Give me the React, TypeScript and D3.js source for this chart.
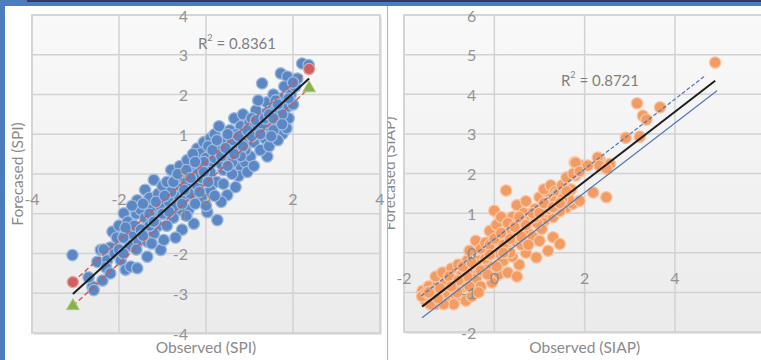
import React from "react";
import * as d3 from "d3";

const spiTicksX = [-4, -2, 0, 2, 4];
const spiTicksY = [-4, -3, -2, -1, 0, 1, 2, 3, 4];
const siapTicksX = [-2, 0, 2, 4, 6];
const siapTicksY = [-2, -1, 0, 1, 2, 3, 4, 5, 6];

const spiPoints: [number, number][] = [
  [-3.07, -2.04], [-2.61, -2.83], [-2.58, -2.92], [-2.38, -2.68], [-2.5, -2.21], [-2.42, -1.91], [-2.7, -2.6],
  [-2.27, -2.17], [-2.2, -1.85], [-2.15, -1.45], [-2.05, -1.6], [-2.1, -2.0], [-2.3, -2.35], [-2.0, -1.3], [-2.35, -1.9],
  [-1.96, -2.17], [-1.85, -2.41], [-1.73, -2.33], [-1.58, -2.37], [-1.89, -0.99], [-1.8, -1.2], [-1.7, -1.5], [-1.75, -1.8],
  [-1.6, -1.0], [-1.58, -0.66], [-1.9, -1.6], [-1.65, -1.3], [-1.55, -1.7], [-1.5, -0.9], [-1.85, -1.35], [-1.7, -0.8],
  [-1.35, -2.08], [-1.2, -0.15], [-1.4, -0.4], [-1.3, -0.6], [-1.25, -0.9], [-1.4, -1.1], [-1.1, -1.3], [-1.2, -1.5],
  [-1.35, -1.7], [-1.04, -1.91], [-0.97, -1.66], [-1.1, -0.5], [-1.45, -0.75], [-1.15, -1.1], [-1.05, -0.8], [-1.3, -1.3], [-1.0, -0.3],
  [-0.9, -0.2], [-0.8, 0.1], [-0.7, -0.5], [-0.85, -0.7], [-0.6, -0.9], [-0.75, -1.1], [-0.9, -1.3], [-0.55, -1.4],
  [-0.65, -0.3], [-0.95, -1.0], [-0.6, 0.2], [-0.7, -1.6], [-0.5, -0.6], [-0.8, -0.45], [-0.55, -0.1],
  [-0.43, 0.35], [-0.2, 0.64], [-0.12, 0.52], [-0.3, 0.1], [-0.45, -0.2], [-0.35, -0.5], [-0.2, -0.3], [-0.28, -1.25],
  [-0.4, -0.9], [-0.1, -0.6], [-0.15, 0.2], [-0.05, 0.8], [-0.3, 0.5], [-0.25, -0.75], [0, 0.0], [-0.45, -1.05], [-0.1, -0.1], [0, 0.4],
  [0.03, -0.96], [0.26, -1.16], [0.49, -0.53], [0.1, 0.9], [0.2, 1.0], [0.3, 0.6], [0.15, 0.3], [0.4, 0.1], [0.25, -0.2],
  [0.1, -0.4], [0.35, -0.7], [0.45, 0.4], [0.05, 0.7], [0.3, 1.2], [0.45, 0.85], [0.2, -0.55], [0.4, -0.25], [0.1, 0.05],
  [0.68, -0.33], [0.8, 0.18], [0.6, 0.3], [0.7, 0.7], [0.55, 1.1], [0.65, 1.4], [0.8, 1.2], [0.9, 0.9], [0.95, 0.5],
  [0.75, -0.05], [0.6, 0.0], [0.85, 1.5], [0.9, 0.3], [0.55, 0.6], [0.7, 1.0], [1.0, 1.3], [0.95, 0.05],
  [1.02, 0.44], [1.41, 0.44], [1.1, 0.8], [1.2, 1.1], [1.3, 1.5], [1.15, 1.6], [1.4, 1.8], [1.25, 0.6], [1.35, 0.9],
  [1.45, 1.2], [1.05, 1.4], [1.29, 2.28], [1.1, 0.2], [1.5, 1.6], [1.2, 1.85], [1.45, 0.7],
  [1.76, 1.01], [1.87, 1.69], [1.72, 2.53], [1.87, 2.45], [1.6, 1.3], [1.7, 1.9], [1.55, 2.0], [1.8, 2.2], [1.9, 1.4],
  [1.65, 0.85], [1.95, 2.0], [1.6, 1.6], [1.75, 1.5], [1.55, 1.1], [1.85, 1.15],
  [2.21, 2.78], [2.36, 2.74], [2.05, 2.2], [2.0, 1.75], [2.1, 2.4],
  [-1.0, -1.0], [-0.5, -0.4], [0.2, 0.4], [0.6, 0.85], [1.1, 1.2], [1.3, 1.25], [0.9, 0.6], [-0.2, 0.0], [-0.7, -0.8],
  [-1.5, -1.4], [-1.3, -1.0], [0.35, 0.25], [0.8, 0.45], [1.6, 1.85], [-0.05, 0.3], [0.5, 0.2],
  [-2.2, -2.5], [-2.0, -1.9], [-1.9, -2.0], [-1.6, -1.9], [-1.45, -1.55], [-1.25, -1.75], [-1.15, -0.7], [-0.95, -0.55],
  [-0.85, -0.95], [-0.75, -0.2], [-0.65, 0.0], [-0.45, 0.1], [-0.35, -0.1], [-0.25, 0.3], [-0.15, -0.45], [-0.05, 0.05],
  [0.05, -0.2], [0.15, 0.6], [0.25, 0.85], [0.35, 0.45], [0.45, 0.65], [0.5, 1.0], [0.65, 0.5], [0.75, 0.95], [0.85, 0.7],
  [0.95, 1.1], [1.05, 0.95], [1.15, 1.35], [1.25, 1.0], [1.35, 1.4], [1.45, 1.5], [1.55, 1.4], [1.65, 1.75], [1.75, 1.25],
  [1.5, 0.95], [1.9, 1.9], [2.0, 2.3], [0.0, -0.8], [-0.55, -0.75], [-1.2, -1.2],
];

const siapPoints: [number, number][] = [
  [-1.59, -0.96], [-1.52, -1.21], [-1.6, -1.1], [-1.45, -0.85], [-1.4, -1.15], [-1.35, -0.95], [-1.3, -1.3], [-1.25, -0.75],
  [-1.5, -1.0], [-1.2, -1.05], [-1.3, -0.6], [-1.42, -1.3],
  [-1.15, -0.5], [-1.1, -0.8], [-1.0, -1.21], [-1.05, -1.0], [-0.95, -0.4], [-0.9, -0.7], [-0.85, -1.1], [-0.8, -0.3],
  [-0.75, -0.9], [-1.0, -0.6], [-0.9, -1.3], [-0.72, -0.55], [-1.12, -1.3], [-0.82, -1.0],
  [-0.63, -1.21], [-0.41, 0.3], [-0.6, -0.2], [-0.5, -0.5], [-0.65, -0.75], [-0.45, -0.95], [-0.35, -0.2], [-0.3, 0.1],
  [-0.55, 0.05], [-0.4, -0.65], [-0.25, -0.45], [-0.5, -1.1], [-0.3, -0.85], [-0.2, 0.25], [-0.6, -0.45], [-0.35, -1.0],
  [0, 1.06], [0.26, 1.57], [-0.1, 0.55], [0.05, 0.7], [0.1, 0.3], [0.0, 0.0], [-0.15, -0.3], [0.2, -0.2], [0.1, -0.55],
  [0.25, 0.5], [-0.05, -0.75], [0.15, 0.9], [0.28, 0.1], [-0.1, 0.2], [0.3, -0.5], [0.05, -0.35],
  [0.4, 0.9], [0.5, 1.2], [0.6, 0.6], [0.45, 0.3], [0.7, 0.0], [0.55, -0.3], [0.65, 1.0], [0.75, 0.5], [0.35, 0.6],
  [0.4, -0.1], [0.8, 0.8], [0.5, -0.6], [0.6, 0.2], [0.7, 1.3], [0.35, 0.0],
  [0.93, -0.12], [1.19, 0.05], [1.3, 0.39], [0.9, 1.1], [1.0, 1.4], [1.1, 0.8], [1.2, 1.0], [0.85, 0.4], [1.05, 0.6],
  [1.25, 1.3], [1.15, 1.55], [0.95, 0.75], [1.3, 0.9], [1.1, 1.6], [1.25, 1.7], [1.35, 1.55],
  [1.45, 0.22], [1.59, 1.14], [1.74, 1.23], [1.89, 1.31], [1.4, 1.5], [1.5, 1.7], [1.6, 1.9], [1.7, 1.6], [1.45, 1.05],
  [1.8, 1.95], [1.35, 1.3], [1.55, 1.45], [1.75, 2.0], [1.65, 1.35],
  [1.78, 2.28], [1.93, 2.2], [2.33, 2.36], [2.56, 2.24], [2.19, 1.52], [2.48, 1.4], [1.8, 2.27], [1.89, 2.05], [2.07, 2.2],
  [2.29, 2.4], [2.33, 2.2], [2.49, 2.12],
  [2.91, 2.9], [3.22, 2.93], [3.16, 3.77], [3.67, 3.67], [3.29, 3.46], [3.37, 3.36], [4.89, 4.8],
  [-1.1, -1.0], [-0.6, -0.6], [-0.2, -0.15], [0.2, 0.2], [0.5, 0.5], [0.9, 0.9], [1.2, 1.1], [1.5, 1.35], [-0.8, -0.7],
  [0.1, 0.0], [0.6, 0.4], [-1.25, -1.15], [-0.4, -0.3], [0.35, 0.35],
  [-1.45, -1.0], [-1.2, -0.9], [-0.95, -0.85], [-0.7, -0.35], [-0.5, -0.25], [-0.3, -0.45], [-0.1, -0.05], [0.0, 0.35],
  [0.15, 0.5], [0.3, 0.75], [0.45, 0.65], [0.55, 0.9], [0.7, 0.7], [0.85, 1.0], [1.0, 1.0], [1.1, 1.25], [1.3, 1.15],
  [1.45, 1.25], [1.6, 1.55], [1.0, 0.3], [0.75, 0.2], [0.2, 0.0], [-0.15, -0.55], [-0.55, -0.85],
];

// regression and band line endpoints [x1, y1, x2, y2]
const spiFit = [-3.06, -3.02, 2.37, 2.4];
const spiUpper = [-3.06, -2.72, 2.37, 2.64];
const spiLower = [-3.06, -3.32, 2.37, 2.16];
const siapFit = [-1.6, -1.36, 4.89, 4.34];
const siapUpper = [-1.62, -1.09, 4.67, 4.47];
const siapLower = [-1.6, -1.64, 4.93, 4.09];

const labelFont = "Lato, 'Open Sans', sans-serif";
const tickColor = "#8a8a8a";

function Panel(props: {
  id: string;
  domainX: [number, number];
  domainY: [number, number];
  rangeX: [number, number];
  rangeY: [number, number];
  ticksX: number[];
  ticksY: number[];
  points: [number, number][];
  fill: string;
  stroke: string;
  fit: number[];
  upper: number[];
  lower: number[];
  bandColor: string;
  upperDash: string;
  lowerDash: string;
  bandWidth: number;
  endMarkers: boolean;
  r2: string;
  r2Pos: [number, number];
  xTitle: string;
  yTitle: string;
  yTitleX: number;
  clipLeft: number;
  clipRight: number;
}) {
  const x = d3.scaleLinear().domain(props.domainX).range(props.rangeX);
  const y = d3.scaleLinear().domain(props.domainY).range(props.rangeY);
  const [x0, x1] = props.rangeX;
  const [y1, y0] = props.rangeY;
  const line = d3.line<[number, number]>().x((d) => x(d[0])).y((d) => y(d[1]));
  const seg = (a: number[]) => line([[a[0], a[1]], [a[2], a[3]]]) || "";
  const tri = d3.symbol().type(d3.symbolTriangle).size(70)() || "";
  const axX = x(0);
  const axY = y(0);
  return (
    <g clipPath={`url(#clip-${props.id})`}>
      <defs>
        <clipPath id={`clip-${props.id}`}>
          <rect x={props.clipLeft} y={0} width={props.clipRight - props.clipLeft} height={360} />
        </clipPath>
        <linearGradient id={`bg-${props.id}`} x1="0" y1="0" x2="0" y2="1">
          <stop offset="0" stopColor="#f9f9f9" />
          <stop offset="1" stopColor="#ebebeb" />
        </linearGradient>
      </defs>
      <rect x={x0 + 2} y={y0 + 2} width={x1 - x0} height={y1 - y0} fill="#e6e6e6" />
      <rect x={x0} y={y0} width={x1 - x0} height={y1 - y0} fill={`url(#bg-${props.id})`} stroke="#dadada" strokeWidth={2} />
      {props.ticksX.map((t) => (
        <line key={"gx" + t} x1={x(t)} x2={x(t)} y1={y0} y2={y1} stroke="#d2d2d2" strokeWidth={1.5} />
      ))}
      {props.ticksY.map((t) => (
        <line key={"gy" + t} x1={x0} x2={x1} y1={y(t)} y2={y(t)} stroke="#d2d2d2" strokeWidth={1.5} />
      ))}
      {props.points.map((p, i) => (
        <circle key={i} cx={x(p[0])} cy={y(p[1])} r={5.7} fill={props.fill} stroke={props.stroke} strokeWidth={1.3} />
      ))}
      <path d={seg(props.upper)} stroke={props.bandColor} strokeWidth={props.bandWidth} strokeDasharray={props.upperDash} fill="none" />
      <path d={seg(props.lower)} stroke={props.bandColor} strokeWidth={props.bandWidth} strokeDasharray={props.lowerDash} fill="none" />
      <path d={seg(props.fit)} stroke="#1e1e1e" strokeWidth={2} fill="none" />
      {props.endMarkers && (
        <g>
          {[0, 2].map((k) => (
            <circle key={"rc" + k} cx={x(props.upper[k])} cy={y(props.upper[k + 1])} r={5.6} fill="#cf5f60" stroke="#e8a3a3" strokeWidth={1.3} />
          ))}
          {[0, 2].map((k) => (
            <path key={"gt" + k} d={tri} transform={`translate(${x(props.lower[k])},${y(props.lower[k + 1])})`} fill="#86b34c" stroke="#a9cc7c" strokeWidth={1} />
          ))}
        </g>
      )}
      {props.ticksY.map((t) => (
        <text key={"ty" + t} x={axX - 18} y={y(t)} textAnchor="end" dominantBaseline="central" fontFamily={labelFont} fontSize={16} fill={tickColor} opacity={0.9}>
          {t}
        </text>
      ))}
      {props.ticksX.map((t) => (
        <text key={"tx" + t} x={x(t)} y={axY + 31} textAnchor="middle" fontFamily={labelFont} fontSize={16} fill={tickColor} opacity={0.9}>
          {t}
        </text>
      ))}
      <text x={props.r2Pos[0]} y={props.r2Pos[1]} textAnchor="middle" dominantBaseline="central" fontFamily={labelFont} fontSize={15} fill="#7f7f7f">
        R<tspan fontSize={9} dy={-6}>2</tspan>
        <tspan dy={6}> = {props.r2}</tspan>
      </text>
      <text x={(x0 + x1) / 2} y={353} textAnchor="middle" fontFamily={labelFont} fontSize={15.5} fill="#8a8a8a">
        {props.xTitle}
      </text>
      <text transform={`translate(${props.yTitleX},${(y0 + y1) / 2}) rotate(-90)`} textAnchor="middle" dominantBaseline="central" fontFamily={labelFont} fontSize={15.5} fill="#8a8a8a">
        {props.yTitle}
      </text>
    </g>
  );
}

export default function App() {
  return (
    <div style={{ position: "fixed", left: 0, top: 0 }}>
      <svg width={761} height={360} viewBox="0 0 761 360" style={{ display: "block" }}>
        <rect x={0} y={0} width={761} height={360} fill="#ffffff" />
        <Panel
          id="spi"
          domainX={[-4, 4]}
          domainY={[-4, 4]}
          rangeX={[32, 380]}
          rangeY={[333, 15]}
          ticksX={spiTicksX}
          ticksY={spiTicksY}
          points={spiPoints}
          fill="#5b88c4"
          stroke="#9db9de"
          fit={spiFit}
          upper={spiUpper}
          lower={spiLower}
          bandColor="#d45454"
          upperDash="5,3"
          lowerDash="5,3"
          bandWidth={1.4}
          endMarkers={true}
          r2="0.8361"
          r2Pos={[237, 43]}
          xTitle="Observed (SPI)"
          yTitle="Forecased (SPI)"
          yTitleX={17}
          clipLeft={0}
          clipRight={387}
        />
        <Panel
          id="siap"
          domainX={[-2, 6]}
          domainY={[-2, 6]}
          rangeX={[404, 765.3]}
          rangeY={[332, 15]}
          ticksX={siapTicksX}
          ticksY={siapTicksY}
          points={siapPoints}
          fill="#f29b63"
          stroke="#f8c6a3"
          fit={siapFit}
          upper={siapUpper}
          lower={siapLower}
          bandColor="#5277b3"
          upperDash="4,2"
          lowerDash="none"
          bandWidth={1.2}
          endMarkers={false}
          r2="0.8721"
          r2Pos={[600, 80]}
          xTitle="Observed (SIAP)"
          yTitle="Forecased (SIAP)"
          yTitleX={389}
          clipLeft={388}
          clipRight={761}
        />
        <line x1={387.5} x2={387.5} y1={6} y2={360} stroke="#9fb4d9" strokeWidth={1} />
        <rect x={0} y={0} width={5} height={360} fill="#4a7cbe" />
        <rect x={0} y={0} width={761} height={6} fill="#4a7cbe" />
        <rect x={27} y={0} width={734} height={2} fill="#2f3b66" />
      </svg>
    </div>
  );
}
